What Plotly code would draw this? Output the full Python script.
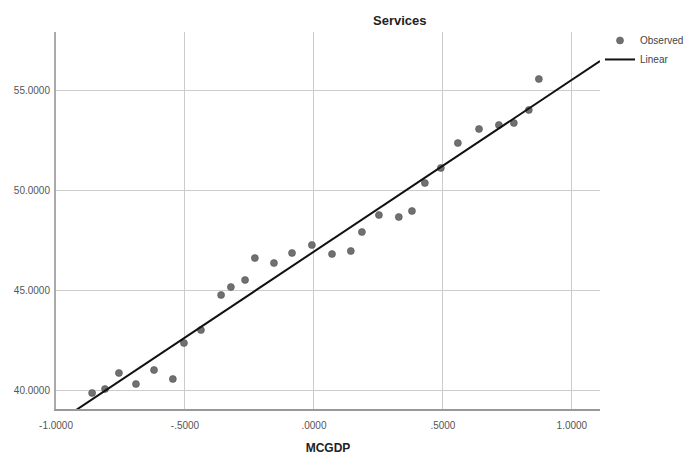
import plotly.graph_objects as go

mcgdp = [-0.860, -0.810, -0.756, -0.690, -0.620, -0.547, -0.504, -0.438, -0.360, -0.322,
         -0.267, -0.229, -0.155, -0.085, -0.008, 0.070, 0.143, 0.186, 0.252, 0.329,
         0.380, 0.430, 0.492, 0.558, 0.640, 0.717, 0.775, 0.833, 0.872]
services = [39.85, 40.05, 40.85, 40.30, 41.00, 40.55, 42.35, 43.00, 44.75, 45.15,
            45.50, 46.60, 46.35, 46.85, 47.25, 46.80, 46.95, 47.90, 48.75, 48.65,
            48.95, 50.35, 51.10, 52.35, 53.05, 53.25, 53.35, 54.00, 55.55]

# Linear fit parameters
fit_intercept = 46.92
fit_slope = 8.59

x_range = [-1.0, 1.109]
y_range = [39.05, 57.9]

x_tickvals = [-1.0, -0.5, 0.0, 0.5, 1.0]
x_ticktext = ["-1.0000", "-.5000", ".0000", ".5000", "1.0000"]
y_tickvals = [40, 45, 50, 55]
y_ticktext = ["40.0000", "45.0000", "50.0000", "55.0000"]

line_x = x_range
line_y = [fit_intercept + fit_slope * v for v in line_x]

font_family = "Arial, Liberation Sans, sans-serif"

fig = go.Figure()
fig.add_trace(go.Scatter(
    x=mcgdp, y=services, mode="markers", name="Observed",
    marker=dict(size=7, color="#707070", line=dict(width=0.6, color="#555555")),
))
fig.add_trace(go.Scatter(
    x=line_x, y=line_y, mode="lines", name="Linear",
    line=dict(color="#111111", width=2),
))

fig.update_layout(
    width=691, height=455,
    margin=dict(l=56, r=91, t=32, b=46, autoexpand=False),
    paper_bgcolor="white", plot_bgcolor="white",
    font=dict(family=font_family, size=10, color="#444444"),
    title=dict(text="<b>Services</b>", x=0.632, xref="paper", xanchor="center",
               y=1 - 20 / 455, yref="container", yanchor="middle",
               font=dict(size=13, color="#222222", family=font_family)),
    showlegend=True,
    legend=dict(x=1.0, xanchor="left", y=1.016, yanchor="top",
                font=dict(size=10, color="#444444"), bgcolor="rgba(0,0,0,0)",
                tracegroupgap=0),
    xaxis=dict(range=x_range, tickvals=x_tickvals, ticktext=x_ticktext,
               showgrid=True, gridcolor="#cccccc", gridwidth=1,
               showline=True, linecolor="#999999", linewidth=1.5,
               zeroline=False, ticks="", ticklabelstandoff=6,
               tickfont=dict(size=10, color="#555555"),
               title=dict(text="<b>MCGDP</b>", standoff=14,
                          font=dict(size=12, color="#222222"))),
    yaxis=dict(range=y_range, tickvals=y_tickvals, ticktext=y_ticktext,
               showgrid=True, gridcolor="#cccccc", gridwidth=1,
               showline=True, linecolor="#aaaaaa", linewidth=2,
               zeroline=False, ticks="", ticklabelstandoff=2,
               tickfont=dict(size=10, color="#555555")),
)

fig.write_html("out.html", config={"displayModeBar": False},
               post_script="document.body.style.margin='0';document.body.style.overflow='hidden';")
